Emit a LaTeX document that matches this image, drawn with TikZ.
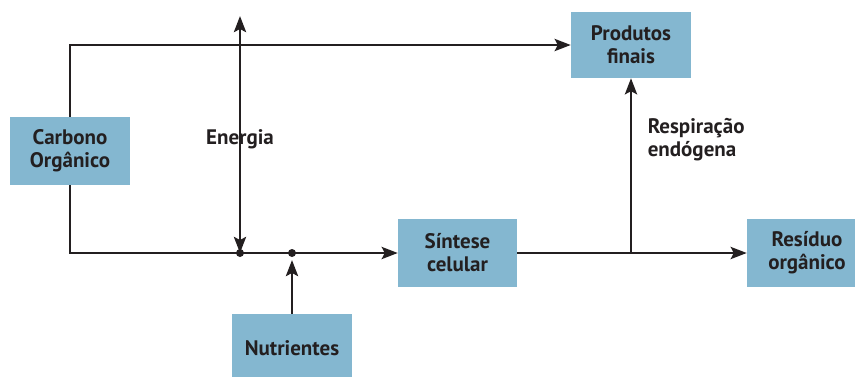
\documentclass[tikz,border=0pt]{standalone}
\usepackage{fontspec}
\setmainfont{PT Sans}
\usepackage{xcolor}
\usepackage{tikz}
\usetikzlibrary{arrows.meta, positioning}

\definecolor{boxblue}{HTML}{84B7D0}
\definecolor{ink}{HTML}{231F20}

\begin{document}
\begin{tikzpicture}[x=1pt, y=-1pt,
        box/.style={fill=boxblue, text=ink, font=\bfseries\fontsize{21}{23}\selectfont,
                    align=center, inner sep=0pt, minimum width=120pt, minimum height=68pt},
        flow/.style={draw=ink, line width=2.9pt,
                     -{Stealth[length=16pt, width=12pt, inset=3pt]}},
        lbl/.style={text=ink, font=\bfseries\fontsize{21}{23}\selectfont, align=left}]
        \useasboundingbox (0,0) rectangle (855,376);
        \node[box] (carbono)    at (70,151)    {Carbono\\Orgânico};
        \node[box, minimum height=66pt] (produtos) at (631,45) {Produtos\\finais};
        \node[box, minimum width=119pt] (sintese) at (457.5,253) {Síntese\\celular};
        \node[box] (residuo)    at (807,253)   {Resíduo\\orgânico};
        \node[box] (nutrientes) at (292,348)   {Nutrientes};
        \coordinate (etop)  at (240,12);
        \coordinate (ejoin) at (240,253);
        \coordinate (njoin) at (292,253);
        \coordinate (split) at (631,253);

        \draw[flow] (carbono.north) |- (produtos.west);
        \draw[flow] (carbono.south) |- (sintese.west);
        \draw[flow, {Stealth[length=16pt, width=12pt, inset=3pt]}-{Stealth[length=16pt, width=12pt, inset=3pt]},
              shorten >=4pt]
          (ejoin) -- (etop) node[lbl, pos=0.47] {Energia};
        \draw[flow, shorten >=7pt] (nutrientes.north) -- (njoin);
        \draw[flow] (sintese.east) -- (residuo.west);
        \draw[flow] (split) -- (produtos.south)
          node[lbl, pos=0.65, anchor=west, xshift=12pt] {Respiração\\endógena};
        \fill[ink] (ejoin) circle (4pt) (njoin) circle (4pt);
\end{tikzpicture}
\end{document}
